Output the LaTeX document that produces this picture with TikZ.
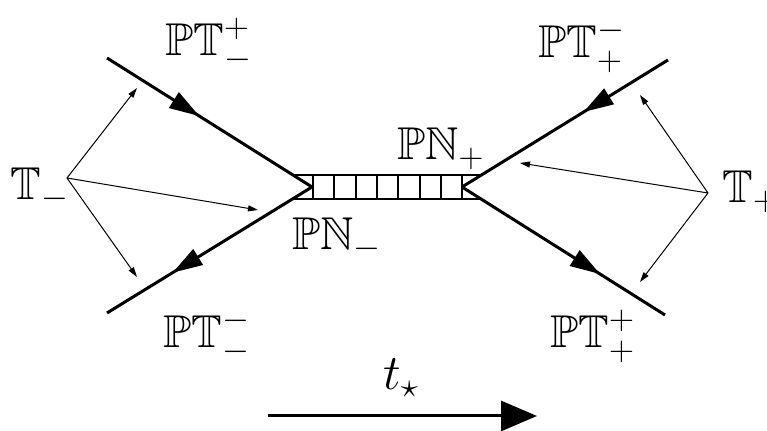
\documentclass[tikz,border=0pt]{standalone}
\usepackage{amsmath,amssymb}
\usepackage{tikz}
\usetikzlibrary{arrows.meta, decorations.markings}

\begin{document}
\begin{tikzpicture}[
    x=0.5pt, y=-0.5pt,
    every node/.style={font=\fontsize{23}{27}\selectfont, inner sep=0pt, anchor=base west},
    leg/.style={line width=1.5pt, postaction={decorate},
      decoration={markings, mark=at position #1 with {\arrow{Triangle[length=15pt, width=9pt]}}}},
    ptr/.style={-{Triangle[length=5pt, width=3pt]}, line width=0.5pt},
    rung/.style={line width=1pt},
    flow/.style={-{Triangle[length=18pt, width=15pt]}, line width=1.5pt},
  ]
    \useasboundingbox (0,0) rectangle (767,431);
    \coordinate (vl) at (312,187);
    \coordinate (vr) at (462,187);
    \coordinate (ul) at (107,58);
    \coordinate (dl) at (107,313);
    \coordinate (ur) at (668,60);
    \coordinate (dr) at (665,315);
    \draw[leg=0.45] (ul) -- (vl);
    \draw[leg=0.68] (vl) -- (dl);
    \draw[leg=0.41] (ur) -- (vr);
    \draw[leg=0.68] (vr) -- (dr);
    \draw[rung] (293,175) -- (481,175) (293,199) -- (481,199);
    \foreach \i in {0,...,7}\draw[rung] (313+21.3*\i,175) -- (313+21.3*\i,199);
    \coordinate (am) at (67,178);
    \coordinate (ap) at (708,193);
    \foreach \t/\p in {m1/{137,88}, m2/{258,210}, m3/{137,277}}{
      \coordinate (\t) at (\p);
      \draw[ptr] (am) -- (\t);}
    \foreach \t/\p in {p1/{640,95}, p2/{520,163}, p3/{640,282}}{
      \coordinate (\t) at (\p);
      \draw[ptr] (ap) -- (\t);}
    \node (tm)   at (10,200)  {$\mathbb{T}_-$};
    \node (tp)   at (722,203) {$\mathbb{T}_+$};
    \node (ptmp) at (165,56)  {$\mathbb{PT}_-^+$};
    \node (ptmm) at (163,348) {$\mathbb{PT}_-^-$};
    \node (ptpm) at (538,58)  {$\mathbb{PT}_+^-$};
    \node (ptpp) at (550,348) {$\mathbb{PT}_+^+$};
    \node (pnp)  at (397,160) {$\mathbb{PN}_+$};
    \node (pnm)  at (292,250) {$\mathbb{PN}_-$};
    \coordinate (fa) at (268,416);
    \coordinate (fb) at (537,416);
    \draw[flow] (fa) -- (fb);
    \node (ts) at (383,390) {$t_\star$};
  \end{tikzpicture}
\end{document}
